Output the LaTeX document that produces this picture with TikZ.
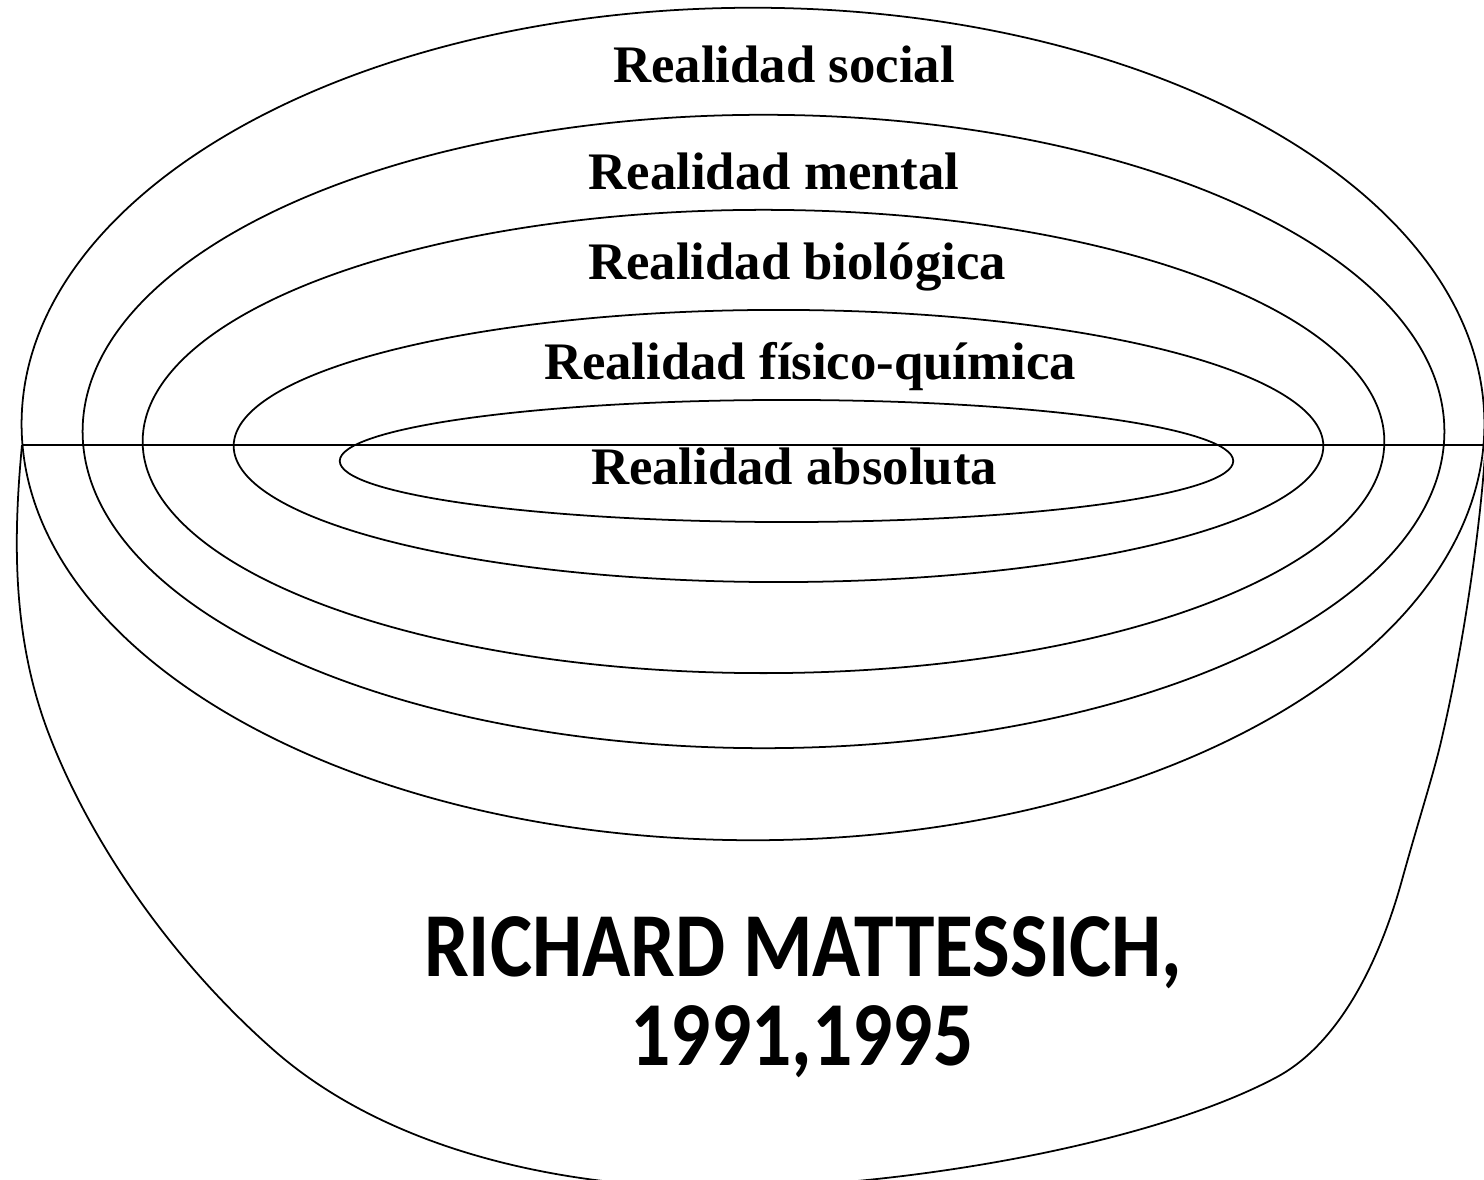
\documentclass[tikz,border=0pt]{standalone}
\usepackage{fontspec}
\setmainfont{Liberation Serif}
\newfontfamily\calibri{Carlito}

\begin{document}
\begin{tikzpicture}[x=0.01cm, y=-0.01cm, line width=0.5pt]

  % Styles
  \tikzset{
    capa/.style={draw=black, line width=0.5pt},
    realidad/.style={anchor=base, inner sep=0pt, font=\fontsize{15}{18}\bfseries\selectfont},
    autor/.style={anchor=base, inner sep=0pt, xscale=0.87, font=\fontsize{26}{31}\calibri\bfseries\selectfont}
  }

  \useasboundingbox (0,0) rectangle (1484,1180);
  \clip (0,0) rectangle (1484,1180);

  % --- BOWL ---
  \draw[capa] (22,445)
    .. controls (13,540) and (12,640) .. (50,737)
    .. controls (90,840) and (170,960) .. (277,1053)
    .. controls (390,1150) and (560,1188) .. (720,1188)
    .. controls (900,1188) and (1150,1145) .. (1277,1077)
    .. controls (1340,1043) and (1380,960) .. (1402,880)
    .. controls (1420,815) and (1435,770) .. (1443,733)
    .. controls (1460,660) and (1480,540) .. (1486,440);

  % --- NESTED ELLIPSES ---
  \draw[capa] (753,424) ellipse [x radius=7.31cm, y radius=4.16cm];
  \draw[capa] (763.5,431.5) ellipse [x radius=6.805cm, y radius=3.165cm];
  \draw[capa] (763.5,441.5) ellipse [x radius=6.205cm, y radius=2.315cm];
  \draw[capa] (778.5,446) ellipse [x radius=5.445cm, y radius=1.36cm];
  \draw[capa] (786.5,461) ellipse [x radius=4.465cm, y radius=0.61cm];

  % --- HORIZONTAL CUT ---
  \coordinate (izq) at (22,445);
  \coordinate (der) at (1484,445);
  \draw[capa] (izq) -- (der);

  % --- LABELS ---
  \node[realidad] (social) at (784,83) {Realidad social};
  \node[realidad] (mental) at (774,190) {Realidad mental};
  \node[realidad] (biologica) at (797,280) {Realidad biológica};
  \node[realidad] (fisico) at (810,380) {Realidad físico-química};
  \node[realidad] (absoluta) at (794,485) {Realidad absoluta};

  \node[autor] (autor) at (803,977) {RICHARD MATTESSICH,};
  \node[autor] (anios) at (802,1066) {1991,1995};

\end{tikzpicture}
\end{document}
